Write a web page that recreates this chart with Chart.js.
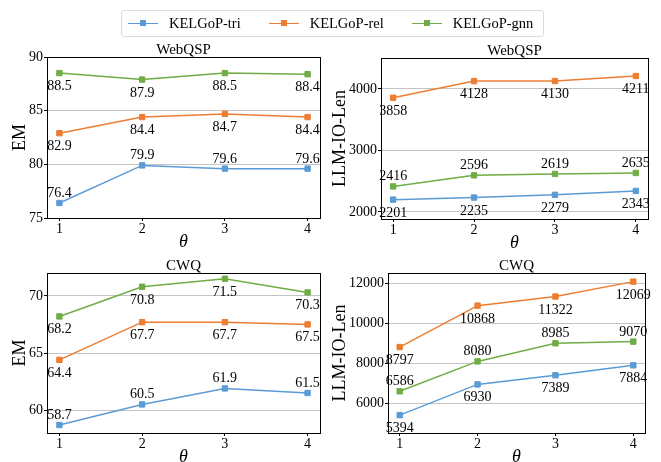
<!DOCTYPE html>
<html lang="en">
<head>
  <meta charset="UTF-8">
  <title>KELGoP theta sweep</title>
  <script src="https://cdn.jsdelivr.net/npm/chart.js"></script>
  <style>
    * { margin: 0; padding: 0; box-sizing: border-box; }
    body { background: #fff; width: 661px; height: 462px; overflow: hidden; }
    #wrap { position: relative; width: 661px; height: 462px; font-family: "Liberation Serif", serif; }
    canvas { position: absolute; }
    #legend {
      position: absolute; left: 121px; top: 10px; width: 423px; height: 27px;
      border: 1px solid #dcdcdc; border-radius: 3px; background: rgba(255,255,255,0.8);
      display: flex; align-items: center; padding-left: 6px;
      font-size: 14.5px; color: #000; z-index: 2; white-space: nowrap;
    }
    .item { display: flex; align-items: center; margin-right: 28px; flex: none; }
    .swatch { position: relative; width: 30px; height: 1.5px; margin-right: 11px; flex: none; }
    .swatch span { position: absolute; left: 12px; top: -2.5px; width: 6px; height: 6px; }
  </style>
</head>
<body>
<div id="wrap">
  <div id="legend"></div>
  <canvas id="c1" width="330" height="250" style="left:0;top:0"></canvas>
  <canvas id="c2" width="331" height="250" style="left:330px;top:0"></canvas>
  <canvas id="c3" width="330" height="212" style="left:0;top:250px"></canvas>
  <canvas id="c4" width="331" height="212" style="left:330px;top:250px"></canvas>
</div>
<script>
  // --- data ---
  const thetas = [1, 2, 3, 4];
  const seriesNames = ['KELGoP-tri', 'KELGoP-rel', 'KELGoP-gnn'];
  const colors = ['#5B9BD5', '#ED7D31', '#70AD47'];

  const webqspEmTri = [76.4, 79.9, 79.6, 79.6];
  const webqspEmRel = [82.9, 84.4, 84.7, 84.4];
  const webqspEmGnn = [88.5, 87.9, 88.5, 88.4];

  const webqspLenTri = [2201, 2235, 2279, 2343];
  const webqspLenRel = [3858, 4128, 4130, 4211];
  const webqspLenGnn = [2416, 2596, 2619, 2635];

  const cwqEmTri = [58.7, 60.5, 61.9, 61.5];
  const cwqEmRel = [64.4, 67.7, 67.7, 67.5];
  const cwqEmGnn = [68.2, 70.8, 71.5, 70.3];

  const cwqLenTri = [5394, 6930, 7389, 7884];
  const cwqLenRel = [8797, 10868, 11322, 12069];
  const cwqLenGnn = [6586, 8080, 8985, 9070];

  const webqspEmTicks = [75, 80, 85, 90];
  const webqspLenTicks = [2000, 3000, 4000];
  const cwqEmTicks = [60, 65, 70];
  const cwqLenTicks = [6000, 8000, 10000, 12000];

  const FONT = '"Liberation Serif", serif';

  // --- legend (html) ---
  const legend = document.getElementById('legend');
  seriesNames.forEach((name, i) => {
    const it = document.createElement('div');
    it.className = 'item';
    it.innerHTML = '<div class="swatch" style="background:' + colors[i] + '"><span style="background:' +
      colors[i] + '"></span></div>' + name;
    legend.appendChild(it);
  });

  // value labels, frame, titles
  const decorations = {
    id: 'decorations',
    afterDatasetsDraw(chart) {
      const o = chart.options.plugins.decorations;
      const ctx = chart.ctx;
      ctx.save();
      ctx.font = '14px ' + FONT;
      ctx.fillStyle = '#000';
      ctx.textAlign = 'center';
      ctx.textBaseline = 'alphabetic';
      chart.data.datasets.forEach((ds, di) => {
        const meta = chart.getDatasetMeta(di);
        meta.data.forEach((pt, i) => {
          const v = ds.data[i].y;
          const txt = o.decimals ? v.toFixed(o.decimals) : String(v);
          const dy = o.placement[di] === 'above' ? -6 : 17;
          ctx.fillText(txt, pt.x, pt.y + dy);
        });
      });
      ctx.restore();
    },
    afterDraw(chart) {
      const o = chart.options.plugins.decorations;
      const a = chart.chartArea;
      const ctx = chart.ctx;
      ctx.save();
      ctx.strokeStyle = '#000';
      ctx.lineWidth = 1;
      ctx.strokeRect(Math.round(a.left) + 0.5, Math.round(a.top) + 0.5,
        Math.round(a.right - a.left), Math.round(a.bottom - a.top));
      ctx.fillStyle = '#000';
      ctx.textAlign = 'center';
      ctx.font = '15px ' + FONT;
      ctx.textBaseline = 'alphabetic';
      ctx.fillText(o.title, (a.left + a.right) / 2, a.top - 3);
      ctx.font = 'italic 18px ' + FONT;
      ctx.textBaseline = 'middle';
      ctx.fillText('\u03b8', (a.left + a.right) / 2, a.bottom + 24);
      ctx.font = '18px ' + FONT;
      ctx.translate(o.yTitleX, (a.top + a.bottom) / 2);
      ctx.rotate(-Math.PI / 2);
      ctx.fillText(o.yTitle, 0, 0);
      ctx.restore();
    }
  };

  function makeChart(id, cfg) {
    const datasets = cfg.series.map((vals, i) => ({
      label: seriesNames[i],
      data: vals.map((v, j) => ({ x: thetas[j], y: v })),
      borderColor: colors[i],
      backgroundColor: colors[i],
      borderWidth: 1.5,
      pointStyle: 'rect',
      pointRadius: 3.8,
      pointBorderWidth: 1,
      pointBorderColor: colors[i],
      pointBackgroundColor: colors[i],
      tension: 0
    }));
    return new Chart(document.getElementById(id), {
      type: 'line',
      data: { datasets: datasets },
      options: {
        responsive: false,
        animation: false,
        events: [],
        layout: { padding: { left: 0, top: cfg.pt, right: cfg.pr, bottom: 0 } },
        plugins: {
          legend: { display: false },
          tooltip: { enabled: false },
          title: { display: false },
          decorations: {
            title: cfg.title, yTitle: cfg.yTitle, yTitleX: cfg.yTitleX,
            placement: cfg.placement, decimals: cfg.decimals
          }
        },
        scales: {
          x: {
            type: 'linear', min: 0.85, max: 4.15,
            afterBuildTicks: s => { s.ticks = thetas.map(v => ({ value: v })); },
            afterFit: s => { s.height = cfg.xH; },
            grid: { display: true, drawOnChartArea: false, drawTicks: true, tickLength: 3, tickColor: '#000' },
            border: { display: true, color: '#000' },
            ticks: { color: '#000', font: { family: FONT, size: 14 }, padding: 0, maxRotation: 0,
              callback: v => String(v) }
          },
          y: {
            min: cfg.ymin, max: cfg.ymax,
            afterBuildTicks: s => { s.ticks = cfg.yTicks.map(v => ({ value: v })); },
            afterFit: s => { s.width = cfg.yW; },
            grid: { color: '#c4c4c4', lineWidth: 1, drawTicks: true, tickLength: 3, tickColor: '#000' },
            border: { display: true, color: '#000' },
            ticks: { color: '#000', font: { family: FONT, size: 14 }, padding: 1,
              callback: v => String(v) }
          }
        }
      },
      plugins: [decorations]
    });
  }

  // datasets drawn through the library's scales; values come from the arrays above
  makeChart('c1', {
    series: [webqspEmTri, webqspEmRel, webqspEmGnn],
    ymin: 75, ymax: 90, yTicks: webqspEmTicks,
    yW: 47, pt: 57, pr: 10, xH: 32, yTitleX: 20,
    title: 'WebQSP', yTitle: 'EM', decimals: 1,
    placement: ['above', 'below', 'below']
  });
  makeChart('c2', {
    series: [webqspLenTri, webqspLenRel, webqspLenGnn],
    ymin: 1886, ymax: 4504, yTicks: webqspLenTicks,
    yW: 51, pt: 58, pr: 13, xH: 31, yTitleX: 10,
    title: 'WebQSP', yTitle: 'LLM-IO-Len', decimals: 0,
    placement: ['below', 'below', 'above']
  });
  makeChart('c3', {
    series: [cwqEmTri, cwqEmRel, cwqEmGnn],
    ymin: 58, ymax: 72, yTicks: cwqEmTicks,
    yW: 47, pt: 23, pr: 10, xH: 29, yTitleX: 20,
    title: 'CWQ', yTitle: 'EM', decimals: 1,
    placement: ['above', 'below', 'below']
  });
  makeChart('c4', {
    series: [cwqLenTri, cwqLenRel, cwqLenGnn],
    ymin: 4500, ymax: 12500, yTicks: cwqLenTicks,
    yW: 58, pt: 23, pr: 16, xH: 29, yTitleX: 10,
    title: 'CWQ', yTitle: 'LLM-IO-Len', decimals: 0,
    placement: ['below', 'below', 'above']
  });
</script>
</body>
</html>
